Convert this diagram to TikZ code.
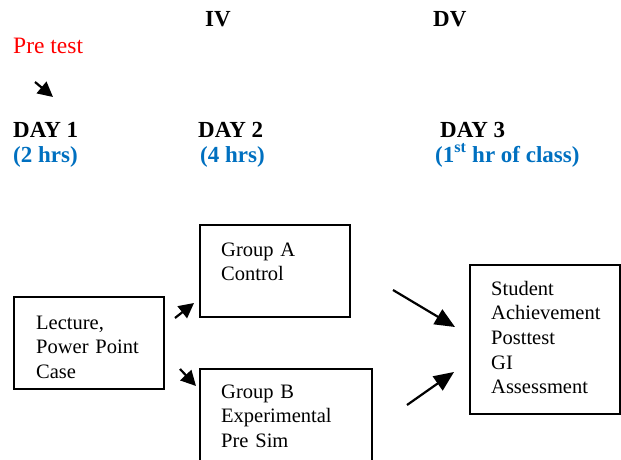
\documentclass[tikz,border=0pt]{standalone}
\usepackage{fontspec}
\setmainfont{Liberation Serif}
\usetikzlibrary{arrows.meta}
\definecolor{hdrblue}{RGB}{0,112,192}
\definecolor{pretestred}{RGB}{255,0,0}
\begin{document}
\begin{tikzpicture}[x=1pt,y=-1pt,
  box/.style={draw, line width=1.6pt, inner sep=0pt},
  txt/.style={font=\fontsize{20.5}{24.7}\selectfont, anchor=base west, inner sep=0pt, align=left, text width=145pt},
  hdr/.style={font=\fontsize{23}{26}\selectfont\bfseries, anchor=base west, inner sep=0pt},
  hrs/.style={hdr, text=hdrblue},
  arr/.style={-{Triangle[length=15pt,width=15pt]}, line width=2.2pt},
  longarr/.style={-{Triangle[length=20pt,width=17pt]}, line width=2.2pt}]
\useasboundingbox (0,0) rectangle (621,460);

% headers
\node[hdr] (iv) at (205,27) {IV};
\node[hdr] (dv) at (433,27) {DV};
\node[font=\fontsize{23.5}{26}\selectfont, anchor=base west, inner sep=0pt, text=pretestred] (pre) at (13,53) {Pre test};
\node[hdr] (d1) at (13,137) {DAY 1};
\node[hdr] (d2) at (198,137) {DAY 2};
\node[hdr] (d3) at (440,137) {DAY 3};
\node[hrs] (h1) at (13,162) {(2 hrs)};
\node[hrs] (h2) at (200,162) {(4 hrs)};
\node[hrs] (h3) at (435,162) {(1\textsuperscript{st} hr of class)};

% boxes
\node[box, minimum width=150pt, minimum height=92pt] (lec) at (89,343) {};
\node[box, minimum width=150pt, minimum height=92pt] (ga) at (275,271) {};
\node[box, minimum width=172pt, minimum height=111pt] (gb) at (286,424.5) {};
\node[box, minimum width=150pt, minimum height=149pt] (st) at (545,339.5) {};

% box texts
\node[txt] (tlec) at (36,329) {Lecture,\\Power Point\\Case};
\node[txt] (tga) at (221,256) {Group A\\Control};
\node[txt] (tgb) at (221,398) {Group B\\Experimental\\Pre Sim};
\node[txt] (tst) at (491,295) {Student\\Achievement\\Posttest\\GI\\Assessment};

% arrow end points
\coordinate (p1) at (35,82);
\coordinate (p2) at (53,97);
\coordinate (a1) at (175,318);
\coordinate (a2) at (194,303);
\coordinate (b1) at (180,369);
\coordinate (b2) at (196,386);
\coordinate (c1) at (393,290);
\coordinate (c2) at (455,327);
\coordinate (e1) at (407,405);
\coordinate (e2) at (454,372);

\draw[arr] (p1) -- (p2);
\draw[arr] (a1) -- (a2);
\draw[arr] (b1) -- (b2);
\draw[longarr] (c1) -- (c2);
\draw[longarr] (e1) -- (e2);
\end{tikzpicture}
\end{document}
